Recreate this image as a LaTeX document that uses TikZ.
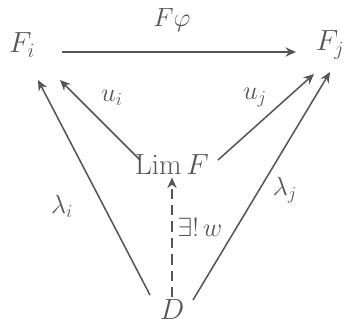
\documentclass[tikz,border=0pt]{standalone}
\usepackage{amsmath,amssymb,graphicx}
\usetikzlibrary{arrows.meta,calc}
\definecolor{ink}{RGB}{85,85,85}
\newcommand{\lb}[1]{\scalebox{1.3}{$#1$}}
\begin{document}
\begin{tikzpicture}[x=0.03cm,y=-0.03cm,
  obj/.style={text=ink,font=\fontsize{26}{30}\selectfont,inner sep=2pt},
  lbl/.style={text=ink,font=\fontsize{17.28}{21}\selectfont,inner sep=1pt},
  arr/.style={draw=ink,line width=1.3pt,-{Stealth[length=9pt,width=8pt]}},
  ]
\useasboundingbox (0,0) rectangle (352,331);
\node[obj] (Fi) at (22,45) {$F_i$};
\node[obj] (Fj) at (330,45) {$F_j$};
\node[obj] (L) at (172,165) {$\operatorname{Lim}F$};
\node[obj] (D) at (172,310) {$D$};
\coordinate (a1) at (62,52);
\coordinate (a2) at (296,52);
\draw[arr] (a1) -- (a2);
\node[lbl] (lphi) at (172,20) {\lb{F\varphi}};
\coordinate (Lw) at (140,160);
\coordinate (Le) at (218,160);
\coordinate (Fib) at (60,80);
\coordinate (Fjb) at (314,74);
\draw[arr] (Lw) -- (Fib);
\draw[arr] (Le) -- (Fjb);
\node[lbl] (lui) at (112,98) {\lb{u_i}};
\node[lbl] (luj) at (255,98) {\lb{u_j}};
\coordinate (Dl) at (150,295);
\coordinate (Dr) at (193,300);
\coordinate (Fib2) at (38,80);
\coordinate (Fjb2) at (330,72);
\draw[arr] (Dl) -- (Fib2);
\draw[arr] (Dr) -- (Fjb2);
\node[lbl] (lli) at (62,206) {\lb{\lambda_i}};
\node[lbl] (llj) at (285,190) {\lb{\lambda_j}};
\draw[arr,dash pattern=on 9pt off 5pt] (D.north) -- (L.south);
\node[lbl] (lw) at (200,227) {\lb{\exists!\,w}};
\end{tikzpicture}
\end{document}
